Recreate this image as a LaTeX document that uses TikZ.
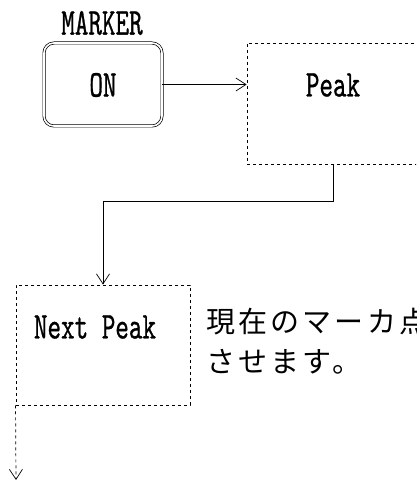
\documentclass[tikz,border=0pt]{standalone}
\usepackage{fontspec}
\newfontfamily\lbl[FakeStretch=0.68,FakeBold=0.7]{lmmono10-regular.otf}
\newfontfamily\jp[LetterSpace=11]{Noto Sans CJK JP}
\usetikzlibrary{arrows.meta}
\begin{document}
\begin{tikzpicture}[x=1pt,y=-1pt,
  txt/.style={font=\lbl\fontsize{38}{38}\selectfont, inner sep=0pt},
  jtxt/.style={font=\jp\fontsize{29}{29}\selectfont, inner sep=0pt, anchor=west},
  dbox/.style={draw, dash pattern=on 3pt off 3pt, line width=0.9pt, inner sep=0pt},
  onbox/.style={draw, double, double distance=1.6pt, line width=0.7pt, rounded corners=10pt, inner sep=0pt},
  conn/.style={line width=0.7pt, -{Straight Barb[length=10pt,width=13pt,line width=0.7pt]}}
]
\useasboundingbox (0,0) rectangle (416,481);
\clip (0,0) rectangle (416,481);
% MARKER ON
\node[txt] (mk) at (102,23) {MARKER};
\node[onbox, minimum width=118pt, minimum height=83pt] (on) at (103,84.5) {};
\node[txt] (ont) at (103,85) {ON};
% Peak
\node[dbox, minimum width=173pt, minimum height=121pt] (pk) at (333.5,103.5) {};
\node[txt] (pkt) at (333,85) {Peak};
% Next Peak
\node[dbox, minimum width=174pt, minimum height=120pt] (np) at (103,345) {};
\node[txt] (npt) at (95,327) {Next Peak};
% Japanese text
\node[jtxt] (jp1) at (206,322) {現在のマーカ点};
\node[jtxt] (jp2) at (206,362) {させます。};
% connectors
\draw[conn] (on.east) -- (on.east -| pk.west);
\draw[conn] (pk.south) -- ++(0,37) -| (np.north);
\coordinate (end) at (16,480);
\draw[conn, dash pattern=on 3pt off 3pt] (np.south west) -- (end);
\end{tikzpicture}
\end{document}
